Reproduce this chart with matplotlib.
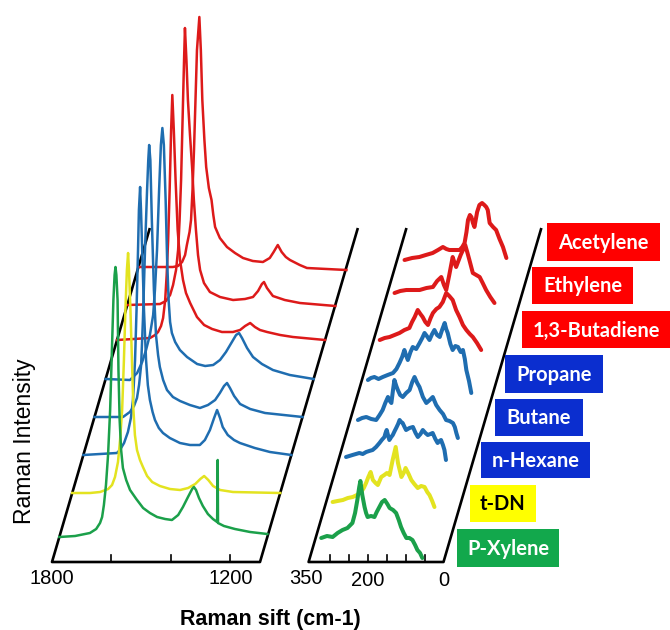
import matplotlib
matplotlib.use("Agg")
import matplotlib.pyplot as plt
from matplotlib.patches import Rectangle

# Data: Raman spectra, (wavenumber cm-1, intensity a.u.)
names = ["P-Xylene", "t-DN", "n-Hexane", "Butane", "Propane",
         "1,3-Butadiene", "Ethylene", "Acetylene"]
offsets = [25, 69, 107, 145, 183, 222, 257, 295]

# 1800-1100 cm-1 window
hi_wn = [
    [1800, 1747, 1697, 1676, 1663, 1656, 1650, 1643, 1636, 1629, 1623, 1618, 1614, 1611,
     1608, 1604, 1601, 1597, 1592, 1586, 1575, 1562, 1541, 1518, 1495, 1471, 1444, 1421,
     1400, 1384, 1367, 1353, 1347, 1340, 1330, 1317, 1300, 1283, 1269, 1267, 1266, 1246,
     1209, 1158, 1100],
    [1800, 1740, 1706, 1679, 1666, 1656, 1646, 1639, 1632, 1626, 1621, 1616, 1612, 1609,
     1604, 1599, 1594, 1589, 1582, 1572, 1562, 1548, 1531, 1505, 1471, 1437, 1410, 1386,
     1369, 1356, 1342, 1326, 1302, 1259, 1100],
    [1800, 1744, 1687, 1677, 1663, 1650, 1640, 1633, 1626, 1621, 1616, 1613, 1609, 1606,
     1601, 1596, 1589, 1583, 1576, 1567, 1559, 1546, 1532, 1509, 1475, 1441, 1408, 1391,
     1374, 1360, 1350, 1340, 1331, 1314, 1293, 1273, 1223, 1172, 1100],
    [1800, 1704, 1681, 1667, 1657, 1650, 1643, 1637, 1630, 1623, 1619, 1616, 1612, 1607,
     1600, 1593, 1586, 1580, 1569, 1556, 1536, 1512, 1479, 1445, 1418, 1394, 1378, 1364,
     1354, 1344, 1330, 1310, 1276, 1226, 1100],
    [1800, 1718, 1694, 1677, 1664, 1651, 1640, 1634, 1627, 1620, 1614, 1609, 1604, 1598,
     1593, 1588, 1583, 1577, 1566, 1550, 1526, 1492, 1465, 1438, 1415, 1395, 1381, 1361,
     1351, 1341, 1324, 1304, 1274, 1237, 1180, 1100],
    [1800, 1689, 1672, 1662, 1652, 1645, 1638, 1633, 1628, 1623, 1618, 1614, 1609, 1603,
     1596, 1588, 1578, 1568, 1554, 1531, 1507, 1480, 1447, 1410, 1386, 1369, 1352, 1336,
     1319, 1295, 1251, 1208, 1100],
    [1800, 1690, 1670, 1656, 1646, 1636, 1629, 1624, 1619, 1614, 1609, 1606, 1601, 1596,
     1589, 1582, 1576, 1569, 1562, 1555, 1542, 1522, 1488, 1444, 1404, 1377, 1360, 1347,
     1340, 1330, 1310, 1270, 1219, 1100],
    [1800, 1684, 1667, 1653, 1643, 1637, 1628, 1623, 1618, 1613, 1608, 1603, 1595, 1590,
     1585, 1578, 1572, 1563, 1554, 1548, 1542, 1526, 1502, 1475, 1448, 1415, 1381, 1358,
     1345, 1331, 1318, 1304, 1290, 1257, 1233, 1100],
]
hi_int = [
    [0, 1, 4, 8, 14, 20, 32, 52, 82, 127, 187, 237, 262, 270, 262, 237, 167, 117, 87, 69,
     57, 47, 38, 29, 24, 20, 18, 17, 22, 30, 40, 48, 50, 47, 39, 31, 23, 18, 15, 77, 14, 11,
     8, 5, 3],
    [0, 0, 1, 4, 8, 16, 31, 53, 83, 133, 183, 223, 240, 223, 183, 133, 83, 58, 43, 33, 26,
     17, 11, 7, 4, 3, 5, 9, 14, 17, 13, 7, 3, 1, 0],
    [0, 1, 2, 5, 12, 23, 37, 55, 95, 145, 205, 245, 268, 245, 195, 145, 95, 70, 55, 43, 35,
     27, 22, 17, 12, 10, 10, 15, 25, 37, 45, 37, 28, 20, 15, 12, 7, 3, 0],
    [0, 0, 5, 11, 19, 32, 52, 97, 167, 227, 257, 272, 257, 197, 127, 82, 62, 50, 37, 27, 20,
     16, 12, 9, 12, 17, 24, 31, 34, 29, 21, 13, 8, 4, 0],
    [0, -1, 6, 17, 29, 44, 64, 89, 129, 189, 234, 251, 234, 179, 119, 79, 57, 46, 37, 29,
     22, 15, 13, 14, 19, 27, 34, 44, 46, 41, 31, 22, 15, 9, 4, 0],
    [0, 2, 5, 8, 14, 22, 40, 65, 100, 150, 210, 245, 210, 160, 110, 80, 60, 47, 37, 23, 15,
     11, 8, 8, 10, 14, 17, 13, 10, 8, 5, 3, 0],
    [0, 1, 4, 10, 20, 35, 55, 85, 125, 185, 245, 277, 245, 205, 170, 138, 105, 75, 50, 35,
     22, 13, 8, 5, 6, 8, 14, 21, 23, 17, 9, 5, 2, -1],
    [0, 0, 1, 5, 12, 22, 35, 47, 77, 117, 167, 217, 250, 217, 167, 127, 100, 79, 67, 52, 40,
     29, 20, 14, 9, 6, 5, 9, 15, 22, 15, 10, 7, 2, -1, -3],
]

# 350-0 cm-1 window
lo_wn = [
    [341, 326, 311, 298, 285, 272, 259, 252, 246, 241, 238, 233, 227, 223, 219, 210, 201,
     195, 188, 181, 174, 167, 161, 152, 144, 137, 131, 124, 117, 109, 101, 94, 88, 81, 75],
    [345, 332, 318, 305, 292, 281, 270, 263, 257, 251, 245, 239, 232, 226, 217, 209, 202,
     195, 187, 179, 173, 164, 158, 153, 145, 138, 130, 121, 112, 103, 96, 90, 83, 77],
    [339, 322, 304, 295, 286, 278, 269, 260, 251, 245, 238, 235, 232, 228, 225, 220, 216,
     211, 207, 202, 198, 194, 190, 185, 181, 172, 163, 156, 150, 143, 137, 130, 124, 117,
     111, 104, 98, 93, 89, 84, 80, 76],
    [337, 326, 315, 302, 289, 280, 272, 265, 258, 253, 249, 245, 241, 236, 232, 226, 219,
     210, 201, 194, 188, 181, 175, 166, 157, 148, 140, 131, 122, 113, 105, 96, 87, 82, 78, 74],
    [340, 332, 323, 312, 301, 288, 274, 265, 257, 250, 244, 240, 235, 228, 222, 213, 204,
     197, 191, 185, 178, 171, 165, 158, 151, 144, 138, 134, 130, 123, 117, 110, 103, 96,
     90, 85, 81, 74, 68],
    [339, 326, 313, 300, 287, 274, 261, 254, 247, 239, 232, 226, 219, 212, 205, 199, 190,
     182, 173, 164, 156, 147, 138, 129, 120, 111, 102, 94, 83, 72],
    [327, 312, 296, 279, 261, 243, 226, 215, 204, 197, 191, 183, 174, 169, 165, 153, 141,
     135, 130, 121, 112, 103, 95, 86, 75, 64],
    [330, 310, 291, 274, 256, 242, 229, 220, 212, 198, 185, 178, 172, 167, 163, 158, 154,
     150, 146, 139, 133, 126, 120, 115, 111, 106, 97, 89, 80, 71, 62],
]
lo_int = [
    [-1, 1, 0, 4, 7, 9, 14, 24, 37, 50, 56, 42, 30, 24, 20, 21, 20, 25, 30, 35, 37, 33, 29,
     27, 24, 17, 10, 4, -1, -1, -3, -8, -13, -16, -21],
    [-9, -8, -7, -5, -4, -2, 1, 5, 10, 16, 21, 13, 10, 8, 16, 18, 20, 18, 33, 46, 30, 16,
     20, 25, 19, 13, 9, 5, 7, 6, 1, -2, -8, -14],
    [-2, 0, 2, 1, 3, 4, 5, 8, 12, 15, 18, 22, 25, 19, 15, 18, 20, 24, 27, 31, 35, 33, 32,
     28, 25, 27, 28, 22, 18, 21, 25, 22, 20, 21, 22, 16, 12, 14, 15, 10, 5, -5],
    [-3, -1, 0, -2, -3, 2, 7, 14, 20, 16, 14, 26, 37, 31, 27, 22, 20, 24, 27, 35, 40, 34,
     30, 20, 14, 17, 20, 12, 7, 3, -3, -4, -6, -10, -16, -21],
    [-1, 1, 2, 0, 2, 4, 6, 10, 16, 22, 29, 24, 19, 27, 32, 30, 36, 41, 46, 43, 39, 45, 49,
     44, 42, 50, 56, 50, 46, 35, 29, 33, 32, 27, 29, 20, 9, -2, -14],
    [0, 2, 3, 5, 7, 10, 12, 18, 23, 30, 26, 23, 18, 15, 22, 27, 31, 33, 38, 47, 44, 40, 30,
     23, 15, 10, 6, 3, -3, -10],
    [12, 14, 15, 15, 15, 17, 18, 24, 28, 20, 15, 30, 48, 42, 38, 50, 60, 52, 45, 32, 30,
     28, 22, 15, 8, 2],
    [7, 9, 10, 12, 14, 17, 20, 18, 17, 17, 17, 20, 24, 35, 47, 52, 50, 44, 40, 55, 62, 64,
     62, 60, 57, 44, 40, 37, 28, 20, 9],
]

hi_ticks = [1600, 1400, 1200]
lo_ticks = [300, 250, 200, 150, 100, 50]

line_colors = ["#1ba04a", "#e3e320", "#1f6db0", "#1f6db0", "#1f6db0",
               "#dd1a1a", "#dd1a1a", "#dd1a1a"]
box_colors = ["#12a84c", "#ffff00", "#0b2ecf", "#0b2ecf", "#0b2ecf",
              "#ff0000", "#ff0000", "#ff0000"]

plt.rcParams["font.family"] = ["Liberation Sans", "DejaVu Sans"]

W, H = 670, 630
fig = plt.figure(figsize=(6.7, 6.3), dpi=100)

slope = 0.293        # waterfall shear (px right per px up)
base_px = 562        # pixel row of the x axis
frame_h = 334


def panel(label, wn_at, px_per_cm):
    # full-figure axes; wn_at is (wavenumber, pixel x) anchor, 1 y unit = 1 px
    wn0, p0 = wn_at
    ax = fig.add_axes([0, 0, 1, 1], label=label)
    ax.set_xlim(wn0 + p0 / px_per_cm, wn0 - (W - p0) / px_per_cm)
    ax.set_ylim(base_px - H, base_px)
    ax.axis("off")
    ax.patch.set_alpha(0)
    return ax


def draw_frame(ax, wl, wr, k, ticks):
    sh = slope * frame_h / k
    kw = dict(color="black", lw=1.9, solid_capstyle="butt", zorder=1)
    ax.plot([wl - sh, wl, wr, wr - sh], [frame_h, 0, 0, frame_h], **kw)
    for t in ticks:
        ax.plot([t, t], [0, 7], color="black", lw=1.2, zorder=1)


k_hi = 208 / 700
k_lo = 0.38
ax_hi = panel("hi", (1800, 52), k_hi)
ax_lo = panel("lo", (0, 443.5), k_lo)

draw_frame(ax_hi, 1800, 1100, k_hi, hi_ticks)
draw_frame(ax_lo, 355, 0, k_lo, lo_ticks)

for i in range(len(names) - 1, -1, -1):
    o = offsets[i]
    x = [w - slope * o / k_hi for w in hi_wn[i]]
    y = [v + o for v in hi_int[i]]
    ax_hi.plot(x, y, color=line_colors[i], lw=1.8, zorder=2 + (8 - i),
               solid_joinstyle="round")
    x = [w - slope * o / k_lo for w in lo_wn[i]]
    y = [v + o for v in lo_int[i]]
    ax_lo.plot(x, y, color=line_colors[i], lw=2.9, zorder=2 + (8 - i),
               solid_joinstyle="round", solid_capstyle="round")

tick_kw = dict(fontsize=14.5, ha="center", va="center")
ax_hi.text(1800, -17, "1800", **tick_kw)
ax_hi.text(1200, -17, "1200", **tick_kw)
ax_lo.text(363, -17, "350", **tick_kw)
ax_lo.text(200, -19, "200", **tick_kw)
ax_lo.text(0, -19, "0", **tick_kw)

fig.text(25 / W, 1 - 441 / H, "Raman Intensity", rotation=90, fontsize=16.5,
         ha="center", va="center")
fig.text(270 / W, 1 - 620 / H, "Raman sift (cm-1)", fontsize=15.5,
         fontweight="bold", ha="center", va="center")

# label boxes (pixel layout)
lay = fig.add_axes([0, 0, 1, 1], label="layout")
lay.set_xlim(0, W)
lay.set_ylim(H, 0)
lay.axis("off")
lay.patch.set_alpha(0)
boxes = [(457, 559, 529, 567), (470, 536, 485, 522), (481, 590, 442, 478),
         (495, 583, 399, 436), (505, 603, 355, 393), (522, 671, 311, 348),
         (532, 633, 267, 304), (547, 660, 223, 261)]
for name, col, (x0, x1, y0, y1) in zip(names, box_colors, boxes):
    lay.add_patch(Rectangle((x0, y0), x1 - x0, y1 - y0, color=col, lw=0))
    tc = "black" if name == "t-DN" else "white"
    lay.text((x0 + x1) / 2, (y0 + y1) / 2 + 1, name, color=tc, fontsize=14.5,
             fontweight="bold", family=["Lato", "DejaVu Sans"],
             ha="center", va="center")

fig.savefig("out.png", dpi=100)
